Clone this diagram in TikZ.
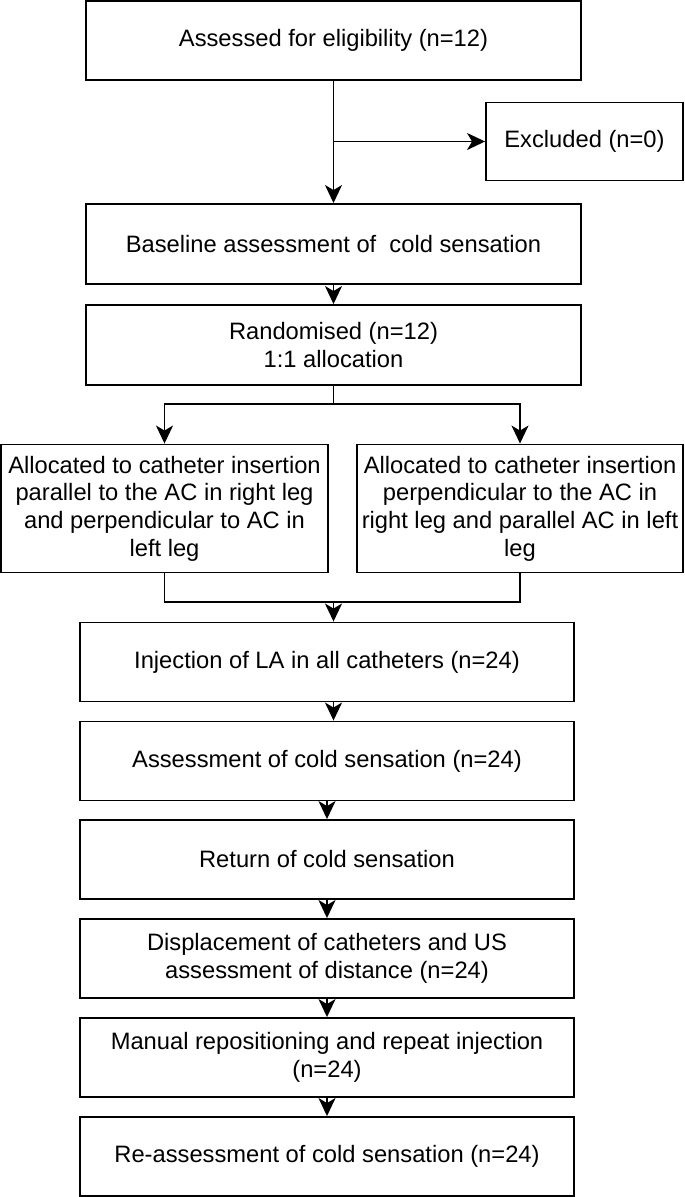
\documentclass[tikz,border=0pt]{standalone}
\usepackage{fontspec}
\setmainfont{Liberation Sans}
\usetikzlibrary{arrows.meta,positioning}

\begin{document}
\begin{tikzpicture}[x=0.02cm,y=-0.02cm,
  box/.style={draw,line width=1.1pt,align=center,inner sep=2pt,
    font=\fontsize{13.5}{15.8}\selectfont},
  wide/.style={box,minimum width=9.9cm,minimum height=1.58cm},
  alloc/.style={box,minimum width=6.53cm,minimum height=2.56cm},
  link/.style={line width=1.1pt},
  arr/.style={link,-{Stealth[length=0.36cm,width=0.34cm,inset=0.1cm]}}]
  \useasboundingbox (0,0) rectangle (685,1197);
  % top part
  \node[wide] (elig) at (333.5,40.5){Assessed for eligibility (n=12)};
  \node[box,minimum width=3.94cm,minimum height=1.56cm] (excl) at (584.5,141.5){Excluded (n=0)};
  \node[wide,minimum height=1.6cm] (base) at (333.5,244){Baseline assessment of \ cold sensation};
  \node[wide,minimum height=1.6cm] (rand) at (333.5,345){Randomised (n=12)\\1:1 allocation};
  \node[alloc] (allocL) at (164.5,508.5){Allocated to catheter insertion\\parallel to the AC in right leg\\and perpendicular to AC in\\left leg};
  \node[alloc] (allocR) at (520,508.5){Allocated to catheter insertion\\perpendicular to the AC in\\right leg and parallel AC in left\\leg};
  % lower part
  \node[wide] (inj) at (327,662){Injection of LA in all catheters (n=24)};
  \node[wide] (assess) at (327,761){Assessment of cold sensation (n=24)};
  \node[wide] (return) at (327,859.5){Return of cold sensation};
  \node[wide] (disp) at (327,958.5){Displacement of catheters and US\\assessment of distance (n=24)};
  \node[wide] (manual) at (327,1057.5){Manual repositioning and repeat injection\\(n=24)};
  \node[wide] (reass) at (327,1156.5){Re-assessment of cold sensation (n=24)};
  % connectors
  \coordinate (exj) at (elig.south |- excl.west);
  \coordinate (fork) at (333.5,404);
  \coordinate (join) at (333.5,602);
  \draw[arr] (elig) -- (base);
  \draw[arr] (exj) -- (excl);
  \draw[arr] (base) -- (rand);
  \draw[link] (rand) -- (fork);
  \draw[arr] (fork) -| (allocL);
  \draw[arr] (fork) -| (allocR);
  \draw[link] (allocL) |- (join);
  \draw[link] (allocR) |- (join);
  \draw[arr] (join) -- (join |- inj.north);
  \draw[arr] (inj.south -| join) -- (assess.north -| join);
  \draw[arr] (assess) -- (return);
  \draw[arr] (return) -- (disp);
  \draw[arr] (disp) -- (manual);
  \draw[arr] (manual) -- (reass);
\end{tikzpicture}
\end{document}
